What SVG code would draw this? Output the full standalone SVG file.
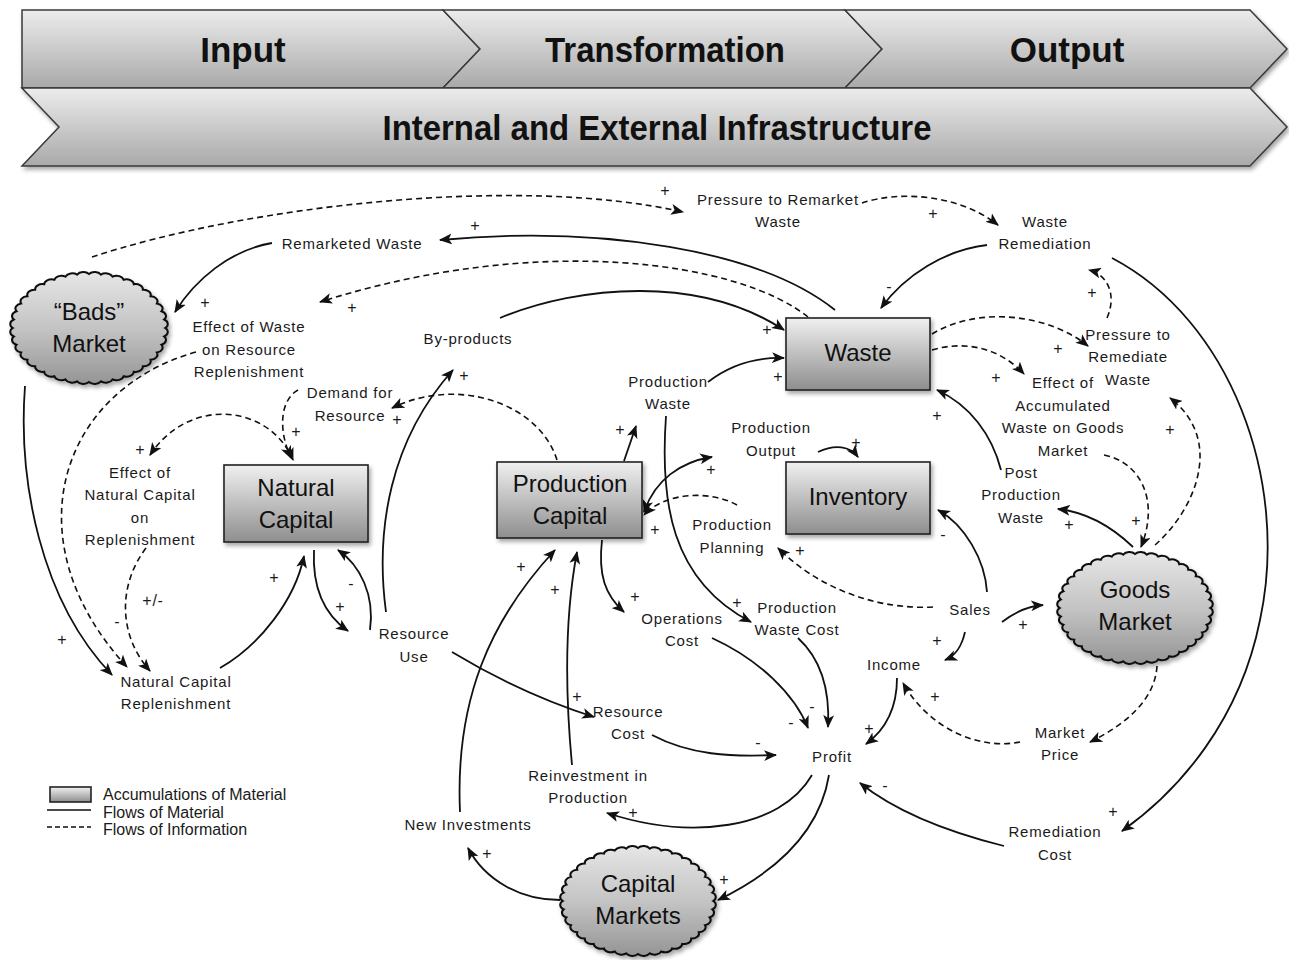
<svg xmlns="http://www.w3.org/2000/svg" xmlns:xlink="http://www.w3.org/1999/xlink" width="1289" height="960" viewBox="0 0 1289 960">
  <defs>
    <style>
      .ban { font-family: "Liberation Sans", Arial, sans-serif; font-weight: bold; font-size: 35px; fill: #111; text-anchor: middle; }
      .node { font-family: "Liberation Sans", Arial, sans-serif; font-size: 24px; fill: #111; text-anchor: middle; }
      .lbl { font-family: "Liberation Sans", Arial, sans-serif; font-size: 15px; letter-spacing: 0.8px; fill: #1a1a1a; text-anchor: middle; }
      .sg { font-family: "Liberation Sans", Arial, sans-serif; font-size: 16px; fill: #1a1a1a; text-anchor: middle; }
      .leg { font-family: "Liberation Sans", Arial, sans-serif; font-size: 16px; fill: #1a1a1a; }
      .chev { fill: url(#banGrad); stroke: #3a3a3a; stroke-width: 1.5; stroke-linejoin: miter; }
      .box { fill: url(#boxGrad); stroke: #222; stroke-width: 1.6; }
      .cloud { fill: url(#cloudGrad); stroke: #111; stroke-width: 2; vector-effect: non-scaling-stroke; }
      .flow { fill: none; stroke: #111; stroke-width: 1.8; marker-end: url(#arr); }
      .info { fill: none; stroke: #111; stroke-width: 1.6; stroke-dasharray: 6 4; marker-end: url(#arr); }
      .both { marker-start: url(#arr); }
      .head { fill: #111; stroke: none; }
    </style>
    <linearGradient id="banGrad" x1="0" y1="0" x2="0" y2="1">
      <stop offset="0" stop-color="#ececec"/>
      <stop offset="1" stop-color="#a9a9a9"/>
    </linearGradient>
    <linearGradient id="boxGrad" x1="0" y1="0" x2="0" y2="1">
      <stop offset="0" stop-color="#f0f0f0"/>
      <stop offset="1" stop-color="#8e8e8e"/>
    </linearGradient>
    <linearGradient id="cloudGrad" x1="0" y1="0" x2="0" y2="1">
      <stop offset="0" stop-color="#e6e6e6"/>
      <stop offset="0.5" stop-color="#c4c4c4"/>
      <stop offset="1" stop-color="#959595"/>
    </linearGradient>
    <filter id="shadow" x="-20%" y="-20%" width="140%" height="150%">
      <feDropShadow dx="2" dy="3" stdDeviation="2" flood-color="#000" flood-opacity="0.35"/>
    </filter>
    <marker id="arr" viewBox="0 0 12 10" refX="11" refY="5" markerWidth="13" markerHeight="11" markerUnits="userSpaceOnUse" orient="auto-start-reverse">
      <path class="head" d="M0,0 L12,5 L0,10 L3,5 Z"/>
    </marker>
    <!-- scalloped cloud outline on a unit circle, 40 bumps -->
    <path id="cloudShape" class="cloud" d="M.94 0 A.09 .09 0 0 1 .928 .147 A.09 .09 0 0 1 .894 .29 A.09 .09 0 0 1 .838 .427 A.09 .09 0 0 1 .76 .553 A.09 .09 0 0 1 .665 .665 A.09 .09 0 0 1 .553 .76 A.09 .09 0 0 1 .427 .838 A.09 .09 0 0 1 .29 .894 A.09 .09 0 0 1 .147 .928 A.09 .09 0 0 1 0 .94 A.09 .09 0 0 1 -.147 .928 A.09 .09 0 0 1 -.29 .894 A.09 .09 0 0 1 -.427 .838 A.09 .09 0 0 1 -.553 .76 A.09 .09 0 0 1 -.665 .665 A.09 .09 0 0 1 -.76 .553 A.09 .09 0 0 1 -.838 .427 A.09 .09 0 0 1 -.894 .29 A.09 .09 0 0 1 -.928 .147 A.09 .09 0 0 1 -.94 0 A.09 .09 0 0 1 -.928 -.147 A.09 .09 0 0 1 -.894 -.29 A.09 .09 0 0 1 -.838 -.427 A.09 .09 0 0 1 -.76 -.553 A.09 .09 0 0 1 -.665 -.665 A.09 .09 0 0 1 -.553 -.76 A.09 .09 0 0 1 -.427 -.838 A.09 .09 0 0 1 -.29 -.894 A.09 .09 0 0 1 -.147 -.928 A.09 .09 0 0 1 0 -.94 A.09 .09 0 0 1 .147 -.928 A.09 .09 0 0 1 .29 -.894 A.09 .09 0 0 1 .427 -.838 A.09 .09 0 0 1 .553 -.76 A.09 .09 0 0 1 .665 -.665 A.09 .09 0 0 1 .76 -.553 A.09 .09 0 0 1 .838 -.427 A.09 .09 0 0 1 .894 -.29 A.09 .09 0 0 1 .928 -.147 A.09 .09 0 0 1 .94 0 Z"/>
  </defs>

  <rect width="1289" height="960" fill="#fff"/>

  <!-- process banner -->
  <g id="banner">
    <g filter="url(#shadow)">
      <polygon id="chev-input" class="chev" points="22,10 443,10 480,49 443,88 22,88"/>
      <polygon id="chev-transformation" class="chev" points="443,10 845,10 882,49 845,88 443,88 480,49"/>
      <polygon id="chev-output" class="chev" points="845,10 1250,10 1287,49 1250,88 845,88 882,49"/>
      <polygon id="chev-infrastructure" class="chev" points="22,88 1250,88 1287,127 1250,166 22,166 59,127"/>
    </g>
    <text class="ban" x="243" y="62">Input</text>
    <text class="ban" x="665" y="62" textLength="240" lengthAdjust="spacingAndGlyphs">Transformation</text>
    <text class="ban" x="1067" y="62">Output</text>
    <text class="ban" x="657" y="140" textLength="549" lengthAdjust="spacingAndGlyphs">Internal and External Infrastructure</text>
  </g>

  <!-- connectors -->
  <g id="connectors">
    <!-- information flows (dashed) -->
    <path class="info" d="M92,257 C250,205 520,175 683,212"/>
    <path class="info" d="M862,203 C900,190 960,195 998,225"/>
    <path class="info" d="M808,317 C740,262 540,232 320,302"/>
    <path class="info" d="M196,352 C60,390 10,540 127,667"/>
    <path class="info" d="M146,548 C118,585 118,635 150,671"/>
    <path class="info both" d="M293,460 C270,405 190,395 150,455"/>
    <path class="info" d="M557,460 C540,405 460,375 392,408"/>
    <path class="info" d="M298,390 C280,400 278,430 291,458"/>
    <path class="info" d="M932,334 C980,305 1050,315 1088,346"/>
    <path class="info" d="M932,350 C965,340 1000,348 1024,374"/>
    <path class="info" d="M1107,318 C1117,295 1108,275 1089,270"/>
    <path class="info" d="M1155,545 C1195,510 1225,440 1170,398"/>
    <path class="info" d="M1104,455 C1140,462 1160,500 1141,547"/>
    <path class="info" d="M1157,666 C1155,700 1125,725 1090,742"/>
    <path class="info" d="M1020,742 C980,750 930,730 903,683"/>
    <path class="info" d="M933,607 C880,610 820,590 778,548"/>
    <path class="info" d="M737,505 C710,490 665,492 644,515"/>

    <!-- material flows (solid) -->
    <path class="flow" d="M835,310 C760,250 600,225 440,240"/>
    <path class="flow" d="M272,243 C230,250 195,280 175,312"/>
    <path class="flow" d="M25,386 C18,480 40,600 112,675"/>
    <path class="flow" d="M220,668 C260,645 295,600 304,556"/>
    <path class="flow" d="M314,550 C312,590 325,615 348,631"/>
    <path class="flow" d="M370,630 C375,595 360,565 338,550"/>
    <path class="flow" d="M386,612 C375,530 390,440 453,370"/>
    <path class="flow" d="M500,318 C580,285 700,275 784,330"/>
    <path class="flow" d="M708,382 C730,365 755,357 784,358"/>
    <path class="flow" d="M624,461 L636,426"/>
    <path class="flow" d="M666,416 C660,500 670,580 751,622"/>
    <path class="flow both" d="M644,512 C655,480 680,462 712,457"/>
    <path class="flow" d="M818,452 C835,444 850,446 858,457"/>
    <path class="flow" d="M602,540 C598,575 605,595 624,612"/>
    <path class="flow" d="M452,652 C490,675 540,700 594,717"/>
    <path class="flow" d="M460,812 C455,700 490,620 555,550"/>
    <path class="flow" d="M572,765 C564,680 566,610 577,552"/>
    <path class="flow" d="M652,735 C690,755 730,757 776,755"/>
    <path class="flow" d="M712,638 C760,660 795,695 808,728"/>
    <path class="flow" d="M798,638 C822,660 830,690 828,727"/>
    <path class="flow" d="M897,678 C897,710 885,730 866,744"/>
    <path class="flow" d="M965,632 C962,645 957,655 945,660"/>
    <path class="flow" d="M1002,622 C1015,612 1028,606 1043,605"/>
    <path class="flow" d="M987,592 C985,560 965,525 938,510"/>
    <path class="flow" d="M1133,547 C1110,525 1085,512 1058,509"/>
    <path class="flow" d="M1001,470 C992,435 970,405 937,390"/>
    <path class="flow" d="M987,245 C945,250 905,275 881,308"/>
    <path class="flow" d="M1112,258 C1230,320 1290,480 1260,620 C1240,720 1180,790 1122,831"/>
    <path class="flow" d="M1004,846 C960,835 900,815 860,783"/>
    <path class="flow" d="M812,775 C780,830 690,840 607,813"/>
    <path class="flow" d="M829,775 C820,830 780,870 718,900"/>
    <path class="flow" d="M560,900 C520,900 485,880 468,848"/>

    <!-- polarity signs -->
    <g class="signs">
      <text class="sg" x="665" y="196">+</text>
      <text class="sg" x="933" y="219">+</text>
      <text class="sg" x="475" y="231">+</text>
      <text class="sg" x="205" y="308">+</text>
      <text class="sg" x="352" y="313">+</text>
      <text class="sg" x="1092" y="298">+</text>
      <text class="sg" x="889" y="292">-</text>
      <text class="sg" x="767" y="335">+</text>
      <text class="sg" x="778" y="382">+</text>
      <text class="sg" x="1058" y="354">+</text>
      <text class="sg" x="996" y="383">+</text>
      <text class="sg" x="937" y="421">+</text>
      <text class="sg" x="1170" y="435">+</text>
      <text class="sg" x="1136" y="526">+</text>
      <text class="sg" x="1069" y="530">+</text>
      <text class="sg" x="620" y="435">+</text>
      <text class="sg" x="711" y="475">+</text>
      <text class="sg" x="856" y="448">+</text>
      <text class="sg" x="655" y="535">+</text>
      <text class="sg" x="800" y="556">+</text>
      <text class="sg" x="943" y="540">-</text>
      <text class="sg" x="635" y="602">+</text>
      <text class="sg" x="737" y="608">+</text>
      <text class="sg" x="464" y="381">+</text>
      <text class="sg" x="397" y="425">+</text>
      <text class="sg" x="296" y="437">+</text>
      <text class="sg" x="140" y="455">+</text>
      <text class="sg" x="117" y="627">-</text>
      <text class="sg" x="62" y="645">+</text>
      <text class="sg" x="274" y="583">+</text>
      <text class="sg" x="340" y="612">+</text>
      <text class="sg" x="351" y="589">-</text>
      <text class="sg" x="521" y="572">+</text>
      <text class="sg" x="555" y="595">+</text>
      <text class="sg" x="577" y="702">+</text>
      <text class="sg" x="758" y="748">-</text>
      <text class="sg" x="791" y="728">-</text>
      <text class="sg" x="812" y="712">-</text>
      <text class="sg" x="869" y="734">+</text>
      <text class="sg" x="937" y="646">+</text>
      <text class="sg" x="1023" y="630">+</text>
      <text class="sg" x="935" y="702">+</text>
      <text class="sg" x="885" y="791">-</text>
      <text class="sg" x="1113" y="817">+</text>
      <text class="sg" x="633" y="818">+</text>
      <text class="sg" x="724" y="885">+</text>
      <text class="sg" x="487" y="859">+</text>
    </g>
  </g>

  <!-- stocks -->
  <g id="waste">
    <rect class="box" x="786" y="318" width="144" height="72" filter="url(#shadow)"/>
    <text class="node" x="858" y="361">Waste</text>
  </g>
  <g id="inventory">
    <rect class="box" x="786" y="462" width="144" height="72" filter="url(#shadow)"/>
    <text class="node" x="858" y="505">Inventory</text>
  </g>
  <g id="production-capital">
    <rect class="box" x="497" y="462" width="145" height="76" filter="url(#shadow)"/>
    <text class="node" x="570" y="492">Production</text>
    <text class="node" x="570" y="524">Capital</text>
  </g>
  <g id="natural-capital">
    <rect class="box" x="224" y="465" width="144" height="77" filter="url(#shadow)"/>
    <text class="node" x="296" y="496">Natural</text>
    <text class="node" x="296" y="528">Capital</text>
  </g>

  <!-- markets -->
  <g id="bads-market">
    <g filter="url(#shadow)"><use xlink:href="#cloudShape" href="#cloudShape" transform="translate(89,328) scale(81,57.5)"/></g>
    <text class="node" x="89" y="320">“Bads”</text>
    <text class="node" x="89" y="352">Market</text>
  </g>
  <g id="goods-market">
    <g filter="url(#shadow)"><use xlink:href="#cloudShape" href="#cloudShape" transform="translate(1135,608) scale(80,57.5)"/></g>
    <text class="node" x="1135" y="598">Goods</text>
    <text class="node" x="1135" y="630">Market</text>
  </g>
  <g id="capital-markets">
    <g filter="url(#shadow)"><use xlink:href="#cloudShape" href="#cloudShape" transform="translate(638,901) scale(80,56.5)"/></g>
    <text class="node" x="638" y="892">Capital</text>
    <text class="node" x="638" y="924">Markets</text>
  </g>

  <!-- auxiliary variables -->
  <g id="pressure-to-remarket-waste"><text class="lbl" x="778" y="205">Pressure to Remarket</text><text class="lbl" x="778" y="227">Waste</text></g>
  <g id="waste-remediation"><text class="lbl" x="1045" y="227">Waste</text><text class="lbl" x="1045" y="249">Remediation</text></g>
  <g id="remarketed-waste"><text class="lbl" x="352" y="249">Remarketed Waste</text></g>
  <g id="by-products"><text class="lbl" x="468" y="344">By-products</text></g>
  <g id="effect-of-waste"><text class="lbl" x="249" y="332">Effect of Waste</text><text class="lbl" x="249" y="355">on Resource</text><text class="lbl" x="249" y="377">Replenishment</text></g>
  <g id="demand-for-resource"><text class="lbl" x="350" y="398">Demand for</text><text class="lbl" x="350" y="421">Resource</text></g>
  <g id="effect-of-natural-capital"><text class="lbl" x="140" y="478">Effect of</text><text class="lbl" x="140" y="500">Natural Capital</text><text class="lbl" x="140" y="523">on</text><text class="lbl" x="140" y="545">Replenishment</text></g>
  <text class="lbl" x="153" y="606" style="font-size:16px">+/-</text>
  <g id="natural-capital-replenishment"><text class="lbl" x="176" y="687">Natural Capital</text><text class="lbl" x="176" y="709">Replenishment</text></g>
  <g id="resource-use"><text class="lbl" x="414" y="639">Resource</text><text class="lbl" x="414" y="662">Use</text></g>
  <g id="production-waste"><text class="lbl" x="668" y="387">Production</text><text class="lbl" x="668" y="409">Waste</text></g>
  <g id="production-output"><text class="lbl" x="771" y="433">Production</text><text class="lbl" x="771" y="456">Output</text></g>
  <g id="production-planning"><text class="lbl" x="732" y="530">Production</text><text class="lbl" x="732" y="553">Planning</text></g>
  <g id="operations-cost"><text class="lbl" x="682" y="624">Operations</text><text class="lbl" x="682" y="646">Cost</text></g>
  <g id="production-waste-cost"><text class="lbl" x="797" y="613">Production</text><text class="lbl" x="797" y="635">Waste Cost</text></g>
  <g id="sales"><text class="lbl" x="970" y="615">Sales</text></g>
  <g id="income"><text class="lbl" x="894" y="670">Income</text></g>
  <g id="resource-cost"><text class="lbl" x="628" y="717">Resource</text><text class="lbl" x="628" y="739">Cost</text></g>
  <g id="profit"><text class="lbl" x="832" y="762">Profit</text></g>
  <g id="reinvestment"><text class="lbl" x="588" y="781">Reinvestment in</text><text class="lbl" x="588" y="803">Production</text></g>
  <g id="new-investments"><text class="lbl" x="468" y="830">New Investments</text></g>
  <g id="market-price"><text class="lbl" x="1060" y="738">Market</text><text class="lbl" x="1060" y="760">Price</text></g>
  <g id="remediation-cost"><text class="lbl" x="1055" y="837">Remediation</text><text class="lbl" x="1055" y="860">Cost</text></g>
  <g id="pressure-to-remediate"><text class="lbl" x="1128" y="340">Pressure to</text><text class="lbl" x="1128" y="362">Remediate</text><text class="lbl" x="1128" y="385">Waste</text></g>
  <g id="effect-of-accumulated-waste"><text class="lbl" x="1063" y="388">Effect of</text><text class="lbl" x="1063" y="411">Accumulated</text><text class="lbl" x="1063" y="433">Waste on Goods</text><text class="lbl" x="1063" y="456">Market</text></g>
  <g id="post-production-waste"><text class="lbl" x="1021" y="478">Post</text><text class="lbl" x="1021" y="500">Production</text><text class="lbl" x="1021" y="523">Waste</text></g>

  <!-- legend -->
  <g id="legend">
    <rect x="50" y="787" width="41" height="15" class="box"/>
    <line x1="47" y1="810" x2="91" y2="810" stroke="#111" stroke-width="1.4"/>
    <line x1="47" y1="827" x2="91" y2="827" stroke="#111" stroke-width="1.4" stroke-dasharray="5 3"/>
    <text class="leg" x="103" y="800">Accumulations of Material</text>
    <text class="leg" x="103" y="818">Flows of Material</text>
    <text class="leg" x="103" y="835">Flows of Information</text>
  </g>
</svg>
